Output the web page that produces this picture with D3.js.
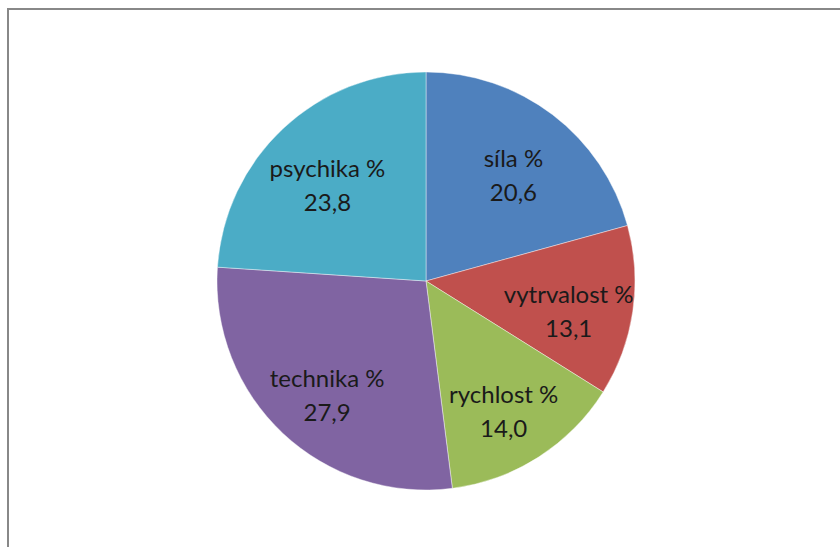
<!DOCTYPE html>
<html><head><meta charset="utf-8">
<script src="https://cdn.jsdelivr.net/npm/d3@7"></script>
<style>html,body{margin:0;padding:0;background:#fff;}svg{display:block;}</style>
</head><body>
<script>
const categories = ["síla %", "vytrvalost %", "rychlost %", "technika %", "psychika %"];
const values = [20.6, 13.1, 14.0, 27.9, 23.8];
const valueLabels = ["20,6", "13,1", "14,0", "27,9", "23,8"];
const colors = ["#4F81BD", "#C0504D", "#9BBB59", "#8064A2", "#4BACC6"];

const W = 840, H = 547;
const cx = 426, cy = 281, R = 209;
const svg = d3.select("body").append("svg").attr("width", W).attr("height", H);
svg.append("rect").attr("x", 8).attr("y", 9).attr("width", 860).attr("height", 560)
  .attr("fill", "#fff").attr("stroke", "#888").attr("stroke-width", 2);

const data = categories.map((c, i) => ({cat: c, value: values[i], label: valueLabels[i], color: colors[i]}));
const pie = d3.pie().value(d => d.value).sort(null);
const arcs = pie(data);
const arc = d3.arc().innerRadius(0).outerRadius(R);
const g = svg.append("g").attr("transform", `translate(${cx},${cy})`);
g.selectAll("path").data(arcs).join("path")
  .attr("d", arc).attr("fill", d => d.data.color)
  .attr("stroke", "#fff").attr("stroke-width", 0.6).attr("stroke-opacity", 0.7);

const labelArc = d3.arc().innerRadius(R * 0.69).outerRadius(R * 0.69);
const lab = g.selectAll("text.lab").data(arcs).join("text")
  .attr("class", "lab")
  .attr("transform", d => `translate(${labelArc.centroid(d)})`)
  .attr("text-anchor", "middle")
  .attr("font-family", "Lato, 'Open Sans', sans-serif")
  .attr("font-size", 24)
  .attr("fill", "#1a1a1a");
lab.append("tspan").attr("x", 0).attr("y", 1).text(d => d.data.cat);
lab.append("tspan").attr("x", 0).attr("y", 35).text(d => d.data.label);
</script>
</body></html>
